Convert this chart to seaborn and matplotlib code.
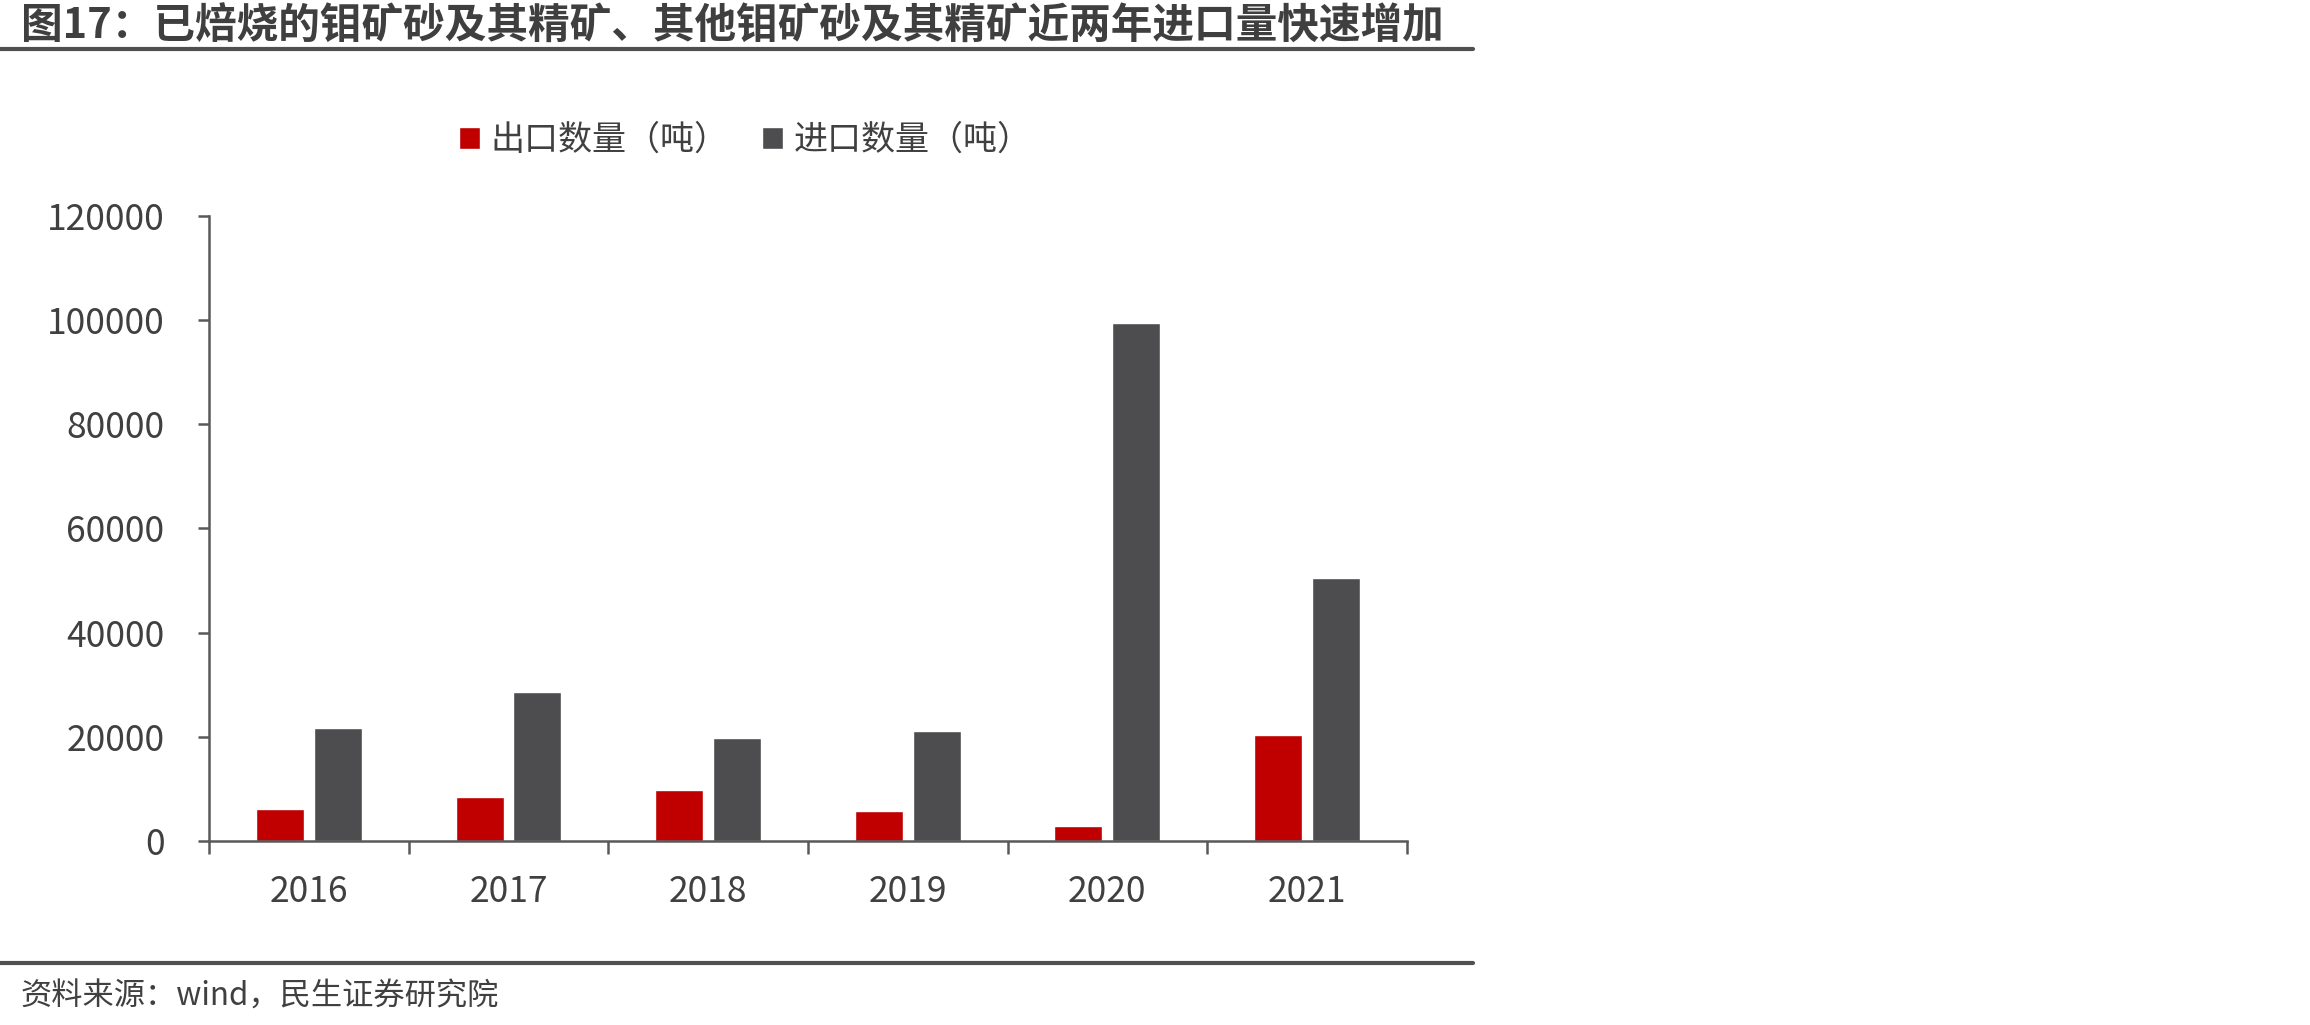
import numpy as np
import pandas as pd
import seaborn as sns
import matplotlib.pyplot as plt
from matplotlib.lines import Line2D

# ---- data ----
years = ["2016", "2017", "2018", "2019", "2020", "2021"]
export_t = [6100, 8400, 9800, 5750, 2800, 20300]
import_t = [21700, 28600, 19700, 21100, 99400, 50400]
series_names = ["出口数量（吨）", "进口数量（吨）"]
y_ticks = [0, 20000, 40000, 60000, 80000, 100000, 120000]

title = "图17：已焙烧的钼矿砂及其精矿、其他钼矿砂及其精矿近两年进口量快速增加"
source = "资料来源：wind，民生证券研究院"

df = pd.DataFrame({
    "year": years * 2,
    "value": export_t + import_t,
    "series": [series_names[0]] * len(years) + [series_names[1]] * len(years),
})

# ---- style ----
sns.set_theme(style="white")
plt.rcParams["font.family"] = ["Noto Sans CJK SC", "DejaVu Sans"]
text_col = "#404040"
axis_col = "#595959"

fig = plt.figure(figsize=(23.1, 10.25), dpi=100)
ax = fig.add_axes([0.0905, 0.1795, 0.5185, 0.6098])

sns.barplot(data=df, x="year", y="value", hue="series",
            palette=["#C00000", "#4D4D4F"], width=0.58, gap=0.17,
            edgecolor="white", linewidth=1.0, saturation=1, ax=ax)

handles, labels = ax.get_legend_handles_labels()
ax.get_legend().remove()

ax.set_ylim(0, 120000)
ax.set_xlim(-0.5, 5.5)
ax.set_yticks(y_ticks)
ax.set_yticklabels([str(v) for v in y_ticks])
ax.set_xlabel("")
ax.set_ylabel("")

# group boundaries get the tick marks, labels sit in between
ax.set_xticks(np.arange(-0.5, 6, 1))
ax.set_xticklabels([])
ax.set_xticks(range(len(years)), labels=years, minor=True)
ax.tick_params(axis="x", which="major", direction="out", length=9,
               width=1.8, color=axis_col, bottom=True)
ax.tick_params(axis="x", which="minor", length=0, pad=24,
               labelsize=25.5, labelcolor=text_col)
ax.tick_params(axis="y", direction="out", length=8, width=1.8,
               color=axis_col, left=True, pad=24,
               labelsize=25.5, labelcolor=text_col)

for s in ["top", "right"]:
    ax.spines[s].set_visible(False)
for s in ["left", "bottom"]:
    ax.spines[s].set_color(axis_col)
    ax.spines[s].set_linewidth(1.8)
ax.grid(False)

fig.legend(handles, labels, loc="center", bbox_to_anchor=(0.3225, 0.863),
           ncol=2, frameon=False, fontsize=24.5, labelcolor=text_col,
           handlelength=0.62, handleheight=0.62, handletextpad=0.3,
           columnspacing=1.0)

# ---- title, rules and source ----
fig.text(0.009, 1 - 27 / 1025, title, fontsize=30, fontweight="bold",
         color="#3F3F3F", va="center", ha="left")
fig.add_artist(Line2D([0, 1473 / 2310], [1 - 49 / 1025] * 2,
                      color="#505050", linewidth=3, transform=fig.transFigure))
fig.add_artist(Line2D([0, 1473 / 2310], [1 - 963 / 1025] * 2,
                      color="#505050", linewidth=3, transform=fig.transFigure))
fig.text(0.009, 1 - 997 / 1025, source, fontsize=22.5, color=text_col,
         va="center", ha="left")

fig.savefig("out.png", dpi=100)
